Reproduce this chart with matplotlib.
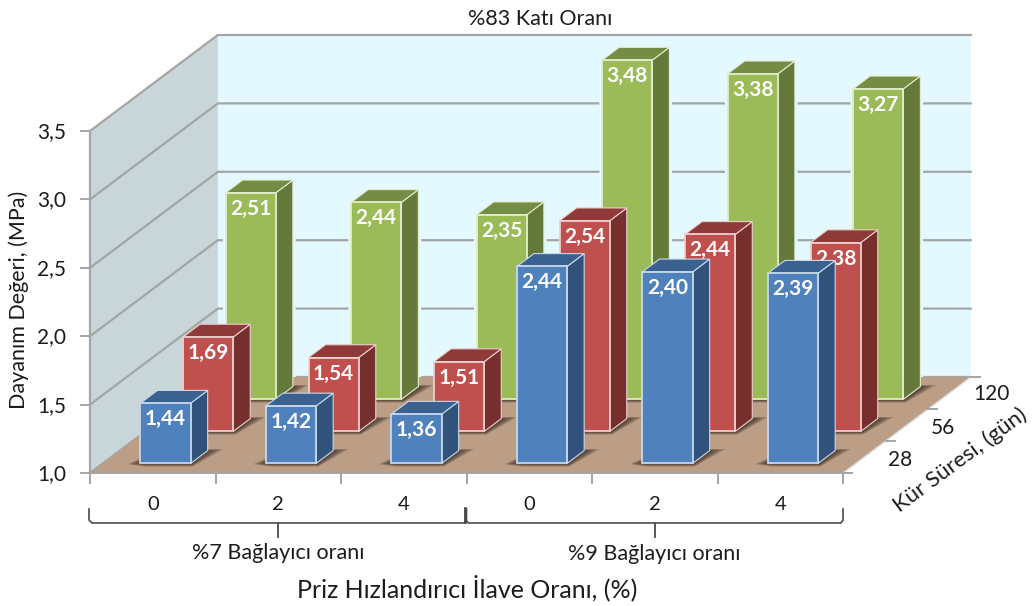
import numpy as np
import matplotlib
matplotlib.use("Agg")
import matplotlib.pyplot as plt
from matplotlib.patches import Polygon

plt.rcParams['font.family'] = ['Lato', 'DejaVu Sans']

# data
hizlandirici = ["0", "2", "4", "0", "2", "4"]
baglayici = ["%7 Bağlayıcı oranı", "%9 Bağlayıcı oranı"]
kur_gun = ["28", "56", "120"]
yticks = [1.0, 1.5, 2.0, 2.5, 3.0, 3.5]
v28 = [1.44, 1.42, 1.36, 2.44, 2.40, 2.39]
v56 = [1.69, 1.54, 1.51, 2.54, 2.44, 2.38]
v120 = [2.51, 2.44, 2.35, 3.48, 3.38, 3.27]
seriler = [v28, v56, v120]

renk_on = ["#4F81BD", "#C0504D", "#9BBB59"]
renk_yan = ["#31527B", "#772F2E", "#657A3A"]
renk_ust = ["#3A6190", "#8E3A38", "#748C43"]
kenar = ["#C9D8EA", "#ECCFCE", "#E3ECCB"]

# oblique projection, pixel positions of the chart box
X0, Y0 = 90.0, 473.0
CW = 125.5
DX, DY = 42.6, -32.0
VS = 136.8
YMIN = 1.0


def P(c, d, v):
    return (X0 + c * CW + d * DX, Y0 + d * DY - (v - YMIN) * VS)


fig = plt.figure(figsize=(10.36, 6.06), dpi=100)
ax = fig.add_axes([0, 0, 1, 1])
ax.set_xlim(0, 1036)
ax.set_ylim(606, 0)
ax.axis("off")

nc = len(hizlandirici)
nd = len(kur_gun)
ymax = yticks[-1]
grid = "#A3A5A6"
metin = "#1C1C1C"

# walls
ax.add_patch(Polygon([P(0, nd, YMIN), P(nc, nd, YMIN), P(nc, nd, ymax), P(0, nd, ymax)],
                     fc="#E3F9FF", ec="none", zorder=1))
ax.add_patch(Polygon([P(0, 0, YMIN), P(0, nd, YMIN), P(0, nd, ymax), P(0, 0, ymax)],
                     fc="#C8D5D9", ec="none", zorder=1))
for t in yticks:
    a, b, c = P(0, 0, t), P(0, nd, t), P(nc, nd, t)
    ax.plot([a[0], b[0], c[0]], [a[1], b[1], c[1]], color=grid, lw=1.6, zorder=2,
            solid_joinstyle="miter")
    ax.plot([a[0] - 9, a[0]], [a[1], a[1]], color=grid, lw=1.4, zorder=2)
    ax.text(a[0] - 24, a[1] + 1, f"{t:.1f}".replace(".", ","), ha="right", va="center",
            fontsize=15, color=metin)
a, b = P(0, 0, YMIN), P(0, 0, ymax)
ax.plot([a[0], b[0]], [a[1], b[1]], color=grid, lw=1.6, zorder=2)

# gap in the gridlines next to the back row bars
BF, BB = 0.3, 0.7
d = nd - 1
for c, v in enumerate(seriler[d]):
    l, r = c + BF, c + BB
    ax.add_patch(Polygon([P(l, d + BF, YMIN), P(l, d + BF, v), P(l, d + BB, v),
                          P(r, d + BB, v), P(r, d + BB, YMIN)],
                         fc="#E3F9FF", ec="#E3F9FF", lw=4, zorder=3))

# floor
ax.add_patch(Polygon([P(0, 0, YMIN), P(nc, 0, YMIN), P(nc, nd, YMIN), P(0, nd, YMIN)],
                     fc="#BC9E86", ec="none", zorder=4))
a, b = P(0, 0, YMIN), P(nc, 0, YMIN)
ax.plot([a[0], b[0]], [a[1], b[1]], color=grid, lw=1.4, zorder=5)
for c in range(nc + 1):
    a = P(c, 0, YMIN)
    ax.plot([a[0], a[0]], [a[1], a[1] + 10], color=grid, lw=1.4, zorder=5)
a, b = P(nc, 0, YMIN), P(nc, nd, YMIN)
ax.plot([a[0], b[0]], [a[1], b[1]], color="#D8D8D8", lw=1.0, zorder=5)
for d in range(nd + 1):
    a = P(nc, d, YMIN)
    ax.plot([a[0], a[0] + 9], [a[1], a[1]], color=grid, lw=1.4, zorder=5)
for d, k in enumerate(kur_gun):
    a = P(nc, d + 0.5, YMIN)
    ax.text(a[0] + 36 + 6 * (d == 2), a[1] + 3 - 2 * (d == 2), k, ha="center", va="center",
            fontsize=15, color=metin)

# bars, back row first
z = 10
for d in range(nd - 1, -1, -1):
    # shadows of the row go on the floor, under every bar
    for c, v in enumerate(seriler[d]):
        l, r = c + BF, c + BB
        f, b = d + BF, d + BB
        for e in [16, 13, 10, 7, 4]:
            fl, fr, br_, bl = P(l, f, YMIN), P(r, f, YMIN), P(r, b, YMIN), P(l, b, YMIN)
            pts = [(fl[0] - e * 0.8, fl[1] + e * 0.05), (fl[0] + 4, fl[1] + e * 0.2),
                   (fr[0] + 2, fr[1] + e * 0.2), (br_[0] + e, br_[1] - e * 0.1), (bl[0], bl[1])]
            ax.add_patch(Polygon(pts, fc="#2E2119", ec="none", alpha=0.2, zorder=6))
    for c, v in enumerate(seriler[d]):
        l, r = c + BF, c + BB
        f, b = d + BF, d + BB
        ax.add_patch(Polygon([P(r, f, YMIN), P(r, b, YMIN), P(r, b, v), P(r, f, v)],
                             fc=renk_yan[d], ec=kenar[d], lw=0.8, zorder=z))
        ax.add_patch(Polygon([P(l, f, v), P(r, f, v), P(r, b, v), P(l, b, v)],
                             fc=renk_ust[d], ec=kenar[d], lw=0.8, zorder=z))
        ax.add_patch(Polygon([P(l, f, YMIN), P(r, f, YMIN), P(r, f, v), P(l, f, v)],
                             fc=renk_on[d], ec=kenar[d], lw=1.3, zorder=z + 1))
        m = P(c + 0.5, f, v)
        ax.text(m[0], m[1] + 16, f"{v:.2f}".replace(".", ","), ha="center", va="center",
                fontsize=15, fontweight="bold", color="white", zorder=z + 2)
        z += 3

# category labels and brackets
br = "#4A4A4A"
for c, k in enumerate(hizlandirici):
    a = P(c + 0.5, 0, YMIN)
    ax.text(a[0], a[1] + 32, k, ha="center", va="center", fontsize=14.5, color=metin)
n = nc // 2
for i, k in enumerate(baglayici):
    x1 = P(i * n, 0, YMIN)[0]
    x2 = P((i + 1) * n, 0, YMIN)[0]
    xm = (x1 + x2) / 2
    ax.plot([x1 - 1, x1 - 1, x1 + 2, x2 - 2, x2, x2], [509, 520, 523, 523, 520, 509],
            color=br, lw=1.2, zorder=3)
    ax.plot([xm, xm], [523, 537], color=br, lw=1.3, zorder=3)
    ax.text(xm, 553 + 1.5 * i, k, ha="center", va="center", fontsize=15.5, color=metin)
ax.plot([465, 465], [508, 522], color="#222222", lw=1.8)

# titles
ax.text(540, 19, "%83 Katı Oranı", ha="center", va="center", fontsize=15.5, color=metin)
ax.text(467, 588, "Priz Hızlandırıcı İlave Oranı, (%)", ha="center", va="center",
        fontsize=18, color=metin)
ax.text(19, 300, "Dayanım Değeri, (MPa)", rotation=90, ha="center", va="center",
        fontsize=15.5, color=metin)
ax.text(960, 460, "Kür Süresi, (gün)", rotation=36.5, ha="center", va="center",
        rotation_mode="anchor", fontsize=16, color=metin)

fig.savefig("out.png", dpi=100)
